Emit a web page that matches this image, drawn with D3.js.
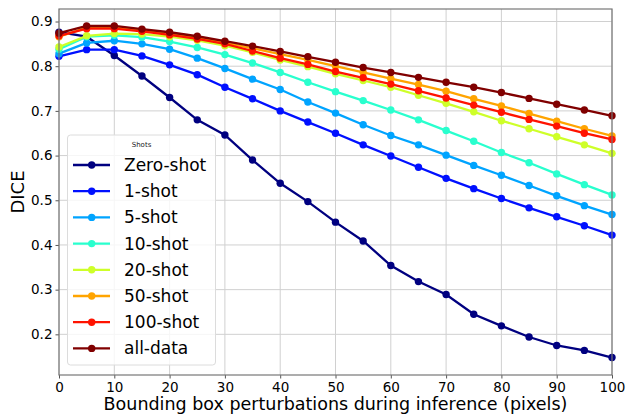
<!DOCTYPE html>
<html>
<head>
<meta charset="utf-8">
<script src="https://cdn.jsdelivr.net/npm/d3@7"></script>
<style>
  body { margin: 0; background: #fff; }
  svg { font-family: "DejaVu Sans", sans-serif; }
</style>
</head>
<body>
<div id="chart"></div>
<script>
const perturbations = [0, 5, 10, 15, 20, 25, 30, 35, 40, 45, 50, 55, 60, 65, 70, 75, 80, 85, 90, 95, 100];

const seriesNames = ['Zero-shot', '1-shot', '5-shot', '10-shot', '20-shot', '50-shot', '100-shot', 'all-data'];
const seriesColors = ['#000080', '#0010ff', '#00a4ff', '#29ffce', '#ceff29', '#ffa400', '#ff1300', '#800000'];

const zeroShot = [0.876, 0.866, 0.824, 0.778, 0.730, 0.680, 0.646, 0.590, 0.538, 0.497, 0.451, 0.409, 0.354, 0.318, 0.289, 0.245, 0.219, 0.194, 0.175, 0.164, 0.148];
const oneShot = [0.822, 0.837, 0.837, 0.823, 0.803, 0.781, 0.753, 0.727, 0.700, 0.675, 0.650, 0.624, 0.599, 0.574, 0.549, 0.526, 0.504, 0.483, 0.463, 0.443, 0.422];
const fiveShot = [0.828, 0.852, 0.857, 0.850, 0.838, 0.818, 0.795, 0.771, 0.748, 0.720, 0.695, 0.669, 0.645, 0.624, 0.601, 0.578, 0.556, 0.533, 0.510, 0.488, 0.468];
const tenShot = [0.838, 0.866, 0.869, 0.865, 0.855, 0.842, 0.826, 0.807, 0.786, 0.764, 0.743, 0.723, 0.702, 0.680, 0.656, 0.632, 0.607, 0.584, 0.559, 0.535, 0.512];
const twentyShot = [0.843, 0.868, 0.873, 0.872, 0.866, 0.858, 0.846, 0.831, 0.814, 0.799, 0.783, 0.768, 0.753, 0.735, 0.717, 0.698, 0.678, 0.660, 0.642, 0.624, 0.605];
const fiftyShot = [0.866, 0.886, 0.887, 0.880, 0.873, 0.864, 0.853, 0.840, 0.827, 0.814, 0.800, 0.786, 0.772, 0.759, 0.744, 0.727, 0.711, 0.694, 0.677, 0.660, 0.644];
const hundredShot = [0.868, 0.884, 0.884, 0.878, 0.870, 0.861, 0.850, 0.834, 0.818, 0.804, 0.788, 0.774, 0.760, 0.745, 0.729, 0.713, 0.697, 0.681, 0.666, 0.650, 0.636];
const allData = [0.874, 0.890, 0.890, 0.883, 0.876, 0.867, 0.856, 0.845, 0.833, 0.821, 0.809, 0.797, 0.786, 0.775, 0.764, 0.753, 0.741, 0.728, 0.715, 0.702, 0.689];

const xTicks = [0, 10, 20, 30, 40, 50, 60, 70, 80, 90, 100];
const yTicks = [0.2, 0.3, 0.4, 0.5, 0.6, 0.7, 0.8, 0.9];

const allSeries = [zeroShot, oneShot, fiveShot, tenShot, twentyShot, fiftyShot, hundredShot, allData];

const width = 626;
const height = 414;
const margin = { top: 9, right: 14, bottom: 39, left: 59 };

const x = d3.scaleLinear().domain([0, 100]).range([margin.left, width - margin.right]);
const y = d3.scaleLinear().domain([0.109, 0.928]).range([height - margin.bottom, margin.top]);

const svg = d3.select('#chart')
  .append('svg')
  .attr('width', width)
  .attr('height', height);

// grid
const grid = svg.append('g');
grid.selectAll('line.vx')
  .data(xTicks)
  .enter()
  .append('line')
  .attr('x1', d => x(d)).attr('x2', d => x(d))
  .attr('y1', margin.top).attr('y2', height - margin.bottom)
  .attr('stroke', '#d0d0d0').attr('stroke-width', 1);
grid.selectAll('line.hy')
  .data(yTicks)
  .enter()
  .append('line')
  .attr('x1', margin.left).attr('x2', width - margin.right)
  .attr('y1', d => y(d)).attr('y2', d => y(d))
  .attr('stroke', '#d0d0d0').attr('stroke-width', 1);

// lines + markers
const line = d3.line()
  .x((d, i) => x(perturbations[i]))
  .y(d => y(d));

allSeries.forEach(function(s, k) {
  const g = svg.append('g');
  g.append('path')
    .datum(s)
    .attr('d', line)
    .attr('fill', 'none')
    .attr('stroke', seriesColors[k])
    .attr('stroke-width', 2.3);
  g.selectAll('circle')
    .data(s)
    .enter()
    .append('circle')
    .attr('cx', (d, i) => x(perturbations[i]))
    .attr('cy', d => y(d))
    .attr('r', 3.7)
    .attr('fill', seriesColors[k]);
});

// axes
const xAxis = svg.append('g')
  .attr('transform', `translate(0, ${height - margin.bottom})`)
  .call(d3.axisBottom(x).tickValues(xTicks).tickSize(3.5).tickPadding(3.5));
const yAxis = svg.append('g')
  .attr('transform', `translate(${margin.left}, 0)`)
  .call(d3.axisLeft(y).tickValues(yTicks).tickFormat(d3.format('.1f')).tickSize(3.5).tickPadding(3));

[xAxis, yAxis].forEach(function(a) {
  a.select('.domain').remove();
  a.selectAll('.tick line').attr('stroke', '#555');
  a.selectAll('.tick text')
    .attr('font-size', 13.5)
    .attr('font-family', '"DejaVu Sans", sans-serif')
    .attr('fill', '#000');
});

// frame
svg.append('rect')
  .attr('x', margin.left)
  .attr('y', margin.top)
  .attr('width', width - margin.right - margin.left)
  .attr('height', height - margin.bottom - margin.top)
  .attr('fill', 'none')
  .attr('stroke', '#777')
  .attr('stroke-width', 1.2);

// axis labels
svg.append('text')
  .attr('x', (margin.left + width - margin.right) / 2)
  .attr('y', 410)
  .attr('text-anchor', 'middle')
  .attr('font-size', 17.5)
  .attr('fill', '#000')
  .text('Bounding box perturbations during inference (pixels)');

svg.append('text')
  .attr('transform', `translate(24, ${(margin.top + height - margin.bottom) / 2}) rotate(-90)`)
  .attr('text-anchor', 'middle')
  .attr('font-size', 18)
  .attr('fill', '#000')
  .text('DICE');

// legend
const legend = svg.append('g');
legend.append('rect')
  .attr('x', 67.5)
  .attr('y', 135)
  .attr('width', 148)
  .attr('height', 230)
  .attr('rx', 3)
  .attr('fill', 'white')
  .attr('fill-opacity', 0.8)
  .attr('stroke', '#dcdcdc');

legend.append('text')
  .attr('x', 141.5)
  .attr('y', 146.5)
  .attr('text-anchor', 'middle')
  .attr('font-size', 7)
  .attr('fill', '#222')
  .text('Shots');

const items = legend.selectAll('g.item')
  .data(seriesNames)
  .enter()
  .append('g')
  .attr('transform', (d, i) => `translate(0, ${165 + i * 26.2})`);
items.append('line')
  .attr('x1', 73).attr('x2', 110)
  .attr('stroke', (d, i) => seriesColors[i])
  .attr('stroke-width', 2.3);
items.append('circle')
  .attr('cx', 91.7)
  .attr('r', 3.7)
  .attr('fill', (d, i) => seriesColors[i]);
items.append('text')
  .attr('x', 124)
  .attr('y', 6)
  .attr('font-size', 17)
  .attr('fill', '#000')
  .text(d => d);
</script>
</body>
</html>
